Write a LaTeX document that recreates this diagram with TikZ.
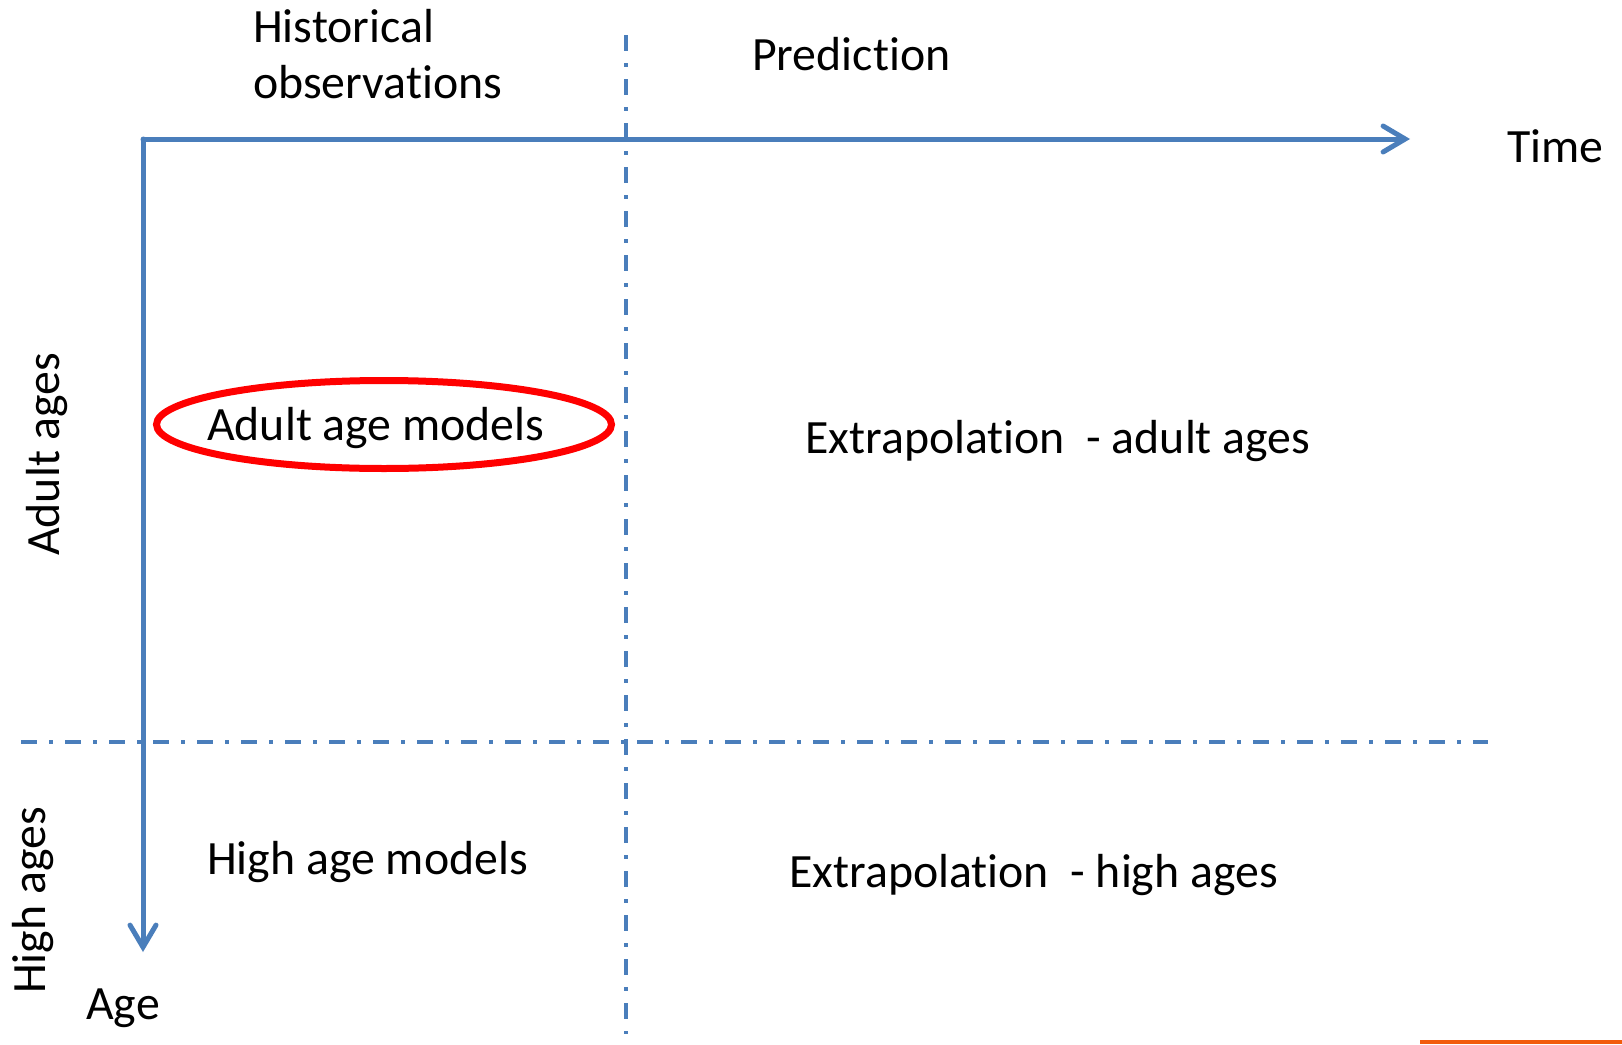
\documentclass[tikz,border=0pt]{standalone}
\usepackage{fontspec}
\setmainfont{Carlito}[Ligatures=NoCommon]
\usetikzlibrary{arrows.meta}
\definecolor{axisblue}{RGB}{74,126,187}
\definecolor{ringred}{RGB}{255,0,0}
\definecolor{barorange}{RGB}{242,92,12}
\begin{document}
\begin{tikzpicture}[x=1pt,y=-1pt,
  axis/.style={draw=axisblue,line width=5pt,line cap=round,
    -{Straight Barb[length=22pt,width=26pt,line width=5pt,line cap=round]}},
  splitline/.style={draw=axisblue,line width=4pt,dash pattern=on 16pt off 12pt on 4pt off 12pt},
  lbl/.style={inner sep=0pt,anchor=base west,font=\fontsize{47.8}{56}\selectfont},
  ring/.style={draw=ringred,line width=7pt}]
\useasboundingbox (0,0) rectangle (1622,1044);
\fill[white] (0,0) rectangle (1622,1044);

% axes
\coordinate (origin) at (143,139);
\coordinate (timeend) at (1410,139);
\coordinate (ageend) at (143,952);
\draw[axis] (origin) -- (timeend);
\draw[axis] (origin) -- (ageend);

% dash-dot separators
\coordinate (hl) at (21,742);
\coordinate (hr) at (1488,742);
\coordinate (vt) at (626,35);
\coordinate (vb) at (626,1034);
\draw[splitline] (hl) -- (hr);
\draw[splitline] (vt) -- (vb);

% labels
\node[lbl,align=left] (hist) at (253,98) {Historical\\observations};
\node[lbl] (pred) at (752,70) {Prediction};
\node[lbl] (time) at (1507,162) {Time};
\node[lbl] (age) at (86,1019) {Age};
\node[lbl,rotate=90] (adult) at (59,556) {Adult ages};
\node[lbl,rotate=90] (high) at (45,994) {High ages};

\node[lbl] (adm) at (207,440) {Adult age models};
\draw[ring] (384,424.5) ellipse [x radius=227.5,y radius=44];
\node[lbl] (exa) at (805,453) {Extrapolation\ \ - adult ages};
\node[lbl] (hgm) at (207,874) {High age models};
\node[lbl] (exh) at (789,887) {Extrapolation\ \ - high ages};

% corner bar
\fill[barorange] (1420,1040) rectangle (1622,1044);
\end{tikzpicture}
\end{document}
